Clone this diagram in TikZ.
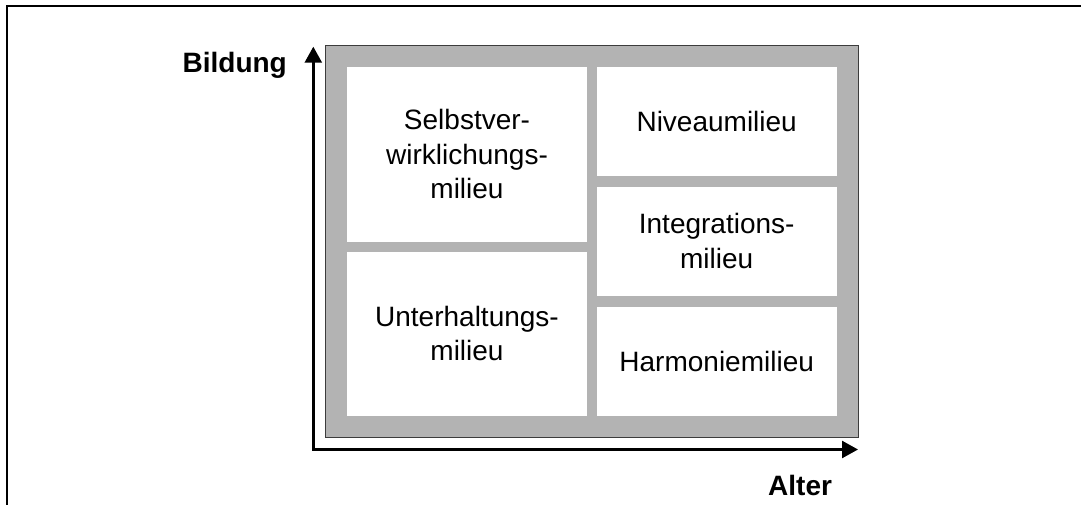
\documentclass[tikz,border=0pt]{standalone}
\usepackage{fontspec}
\setmainfont{Liberation Sans}
\usetikzlibrary{arrows.meta}
\definecolor{panelgray}{RGB}{179,179,179}
\definecolor{panelline}{RGB}{60,60,60}
\tikzset{
  milieu/.style={draw=none, fill=white, inner sep=0pt, align=center,
    font=\fontsize{28}{34.5}\selectfont, text=black},
  axis/.style={line width=2.5pt, -{Triangle[length=16pt,width=17pt]}},
  axislabel/.style={inner sep=0pt, font=\fontsize{28}{34}\selectfont\bfseries},
  frameline/.style={line width=2pt}
}
\begin{document}
\begin{tikzpicture}[x=1pt, y=-1pt]
  \useasboundingbox (0,0) rectangle (1081,504);
  % outer frame (only top and left edges fall inside the page)
  \draw[frameline] (7.3,510) -- (7.3,5.7) -- (1090,5.7);

  % grey panel holding the five milieus
  \node[draw=panelline, line width=0.9pt, fill=panelgray, inner sep=0pt,
        minimum width=533pt, minimum height=391.8pt] (panel) at (591.5,241.4) {};

  \node[milieu, minimum width=240.6pt, minimum height=175pt] (sv) at (467,154.2)
    {Selbstver-\\wirklichungs-\\milieu};
  \node[milieu, minimum width=240.6pt, minimum height=164pt] (uh) at (467,333.7)
    {Unterhaltungs-\\milieu};
  \node[milieu, minimum width=240pt, minimum height=109.6pt] (nv) at (716.7,121.5)
    {Niveaumilieu};
  \node[milieu, minimum width=240pt, minimum height=109pt] (ig) at (716.7,241.2)
    {Integrations-\\milieu};
  \node[milieu, minimum width=240pt, minimum height=109pt] (hm) at (716.7,361.2)
    {Harmoniemilieu};

  % axes
  \coordinate (origin) at (313.3,449.5);
  \coordinate (ytip) at (313.3,46.7);
  \coordinate (xtip) at (858,449.5);
  \draw[axis] ([yshift=-1.25pt]origin) -- (ytip);
  \draw[axis] ([xshift=-1.25pt]origin) -- (xtip);

  \node[axislabel, anchor=base east] (bildung) at (287,72) {Bildung};
  \node[axislabel, anchor=base west] (alter) at (768,495) {Alter};
\end{tikzpicture}
\end{document}
